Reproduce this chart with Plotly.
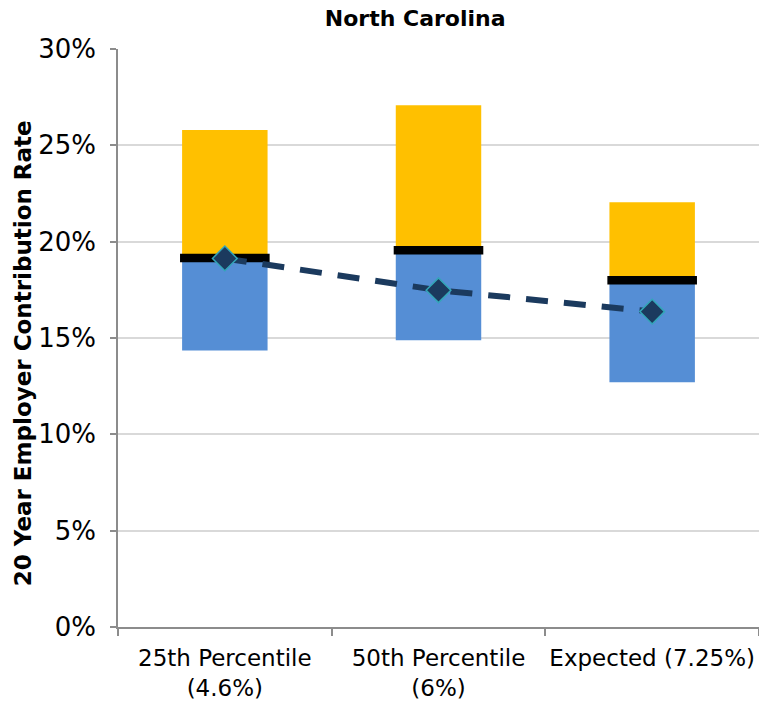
import plotly.graph_objects as go

# Scenario categories (x axis)
categories = ["25th Percentile<br>(4.6%)", "50th Percentile<br>(6%)", "Expected (7.25%)"]

# 20-year employer contribution rate distribution, in percent
low_values = [14.35, 14.88, 12.70]      # bottom of the blue range
median_values = [19.15, 19.55, 18.00]   # black median bar
high_values = [25.80, 27.08, 22.05]     # top of the yellow range
expected_values = [19.13, 17.48, 16.37] # diamond markers on the dashed line

# Y-axis ticks
y_tick_values = [0, 5, 10, 15, 20, 25, 30]
y_tick_labels = [f"{v}%" for v in y_tick_values]

lower_span = [m - l for m, l in zip(median_values, low_values)]
upper_span = [h - m for h, m in zip(high_values, median_values)]

font_family = "'DejaVu Sans', sans-serif"

fig = go.Figure()

# Blue box: low to median
fig.add_trace(go.Bar(
    x=categories, y=lower_span, base=low_values,
    marker=dict(color="#558ED5", line=dict(width=0)),
    width=0.4, showlegend=False, hoverinfo="skip",
))

# Yellow box: median to high
fig.add_trace(go.Bar(
    x=categories, y=upper_span, base=median_values,
    marker=dict(color="#FFC000", line=dict(width=0)),
    width=0.4, showlegend=False, hoverinfo="skip",
))

# Median marker
fig.add_trace(go.Scatter(
    x=categories, y=median_values, mode="markers",
    marker=dict(symbol="line-ew", size=64, line=dict(width=8.5, color="black")),
    showlegend=False, hoverinfo="skip",
))

# Dashed trend through the diamonds
fig.add_trace(go.Scatter(
    x=categories, y=expected_values, mode="lines+markers",
    line=dict(color="#1B3A5E", width=6, dash="22px,16px"),
    marker=dict(symbol="diamond", size=19, color="#1B3A5E",
                line=dict(width=1.5, color="#33A6B8")),
    showlegend=False, hoverinfo="skip",
))

fig.update_layout(
    width=759, height=705,
    margin=dict(l=118, r=0, t=49, b=78, autoexpand=False),
    paper_bgcolor="white", plot_bgcolor="white",
    barmode="overlay",
    font=dict(family=font_family, color="black"),
    title=dict(
        text="<b>North Carolina</b>",
        x=0.547, xanchor="center", y=0.974, yanchor="middle",
        font=dict(size=22, family=font_family, color="black"),
    ),
    xaxis=dict(
        type="category",
        tickson="boundaries",
        automargin=False,
        tickangle=0,
        ticklabelstandoff=10,
        ticks="outside", ticklen=7, tickcolor="#8C8C8C", tickwidth=1.5,
        showline=True, linecolor="#8C8C8C", linewidth=1.5,
        showgrid=False,
        tickfont=dict(size=23, family=font_family, color="black"),
        range=[-0.5, 2.5],
    ),
    yaxis=dict(
        range=[0, 30],
        automargin=False,
        tickmode="array",
        tickvals=y_tick_values,
        ticktext=y_tick_labels,
        ticklabelstandoff=9,
        ticks="outside", ticklen=6, tickcolor="#8C8C8C", tickwidth=1.5,
        showline=True, linecolor="#8C8C8C", linewidth=1.5,
        showgrid=True, gridcolor="#D9D9D9", gridwidth=1.5,
        zeroline=False,
        tickfont=dict(size=26, family=font_family, color="black"),
    ),
    annotations=[dict(
        text="<b>20 Year Employer Contribution Rate</b>",
        xref="paper", yref="paper",
        x=-0.148, y=0.474, xanchor="center", yanchor="middle",
        textangle=-90, showarrow=False,
        font=dict(size=23, family=font_family, color="black"),
    )],
)

fig.write_html("out.html")
